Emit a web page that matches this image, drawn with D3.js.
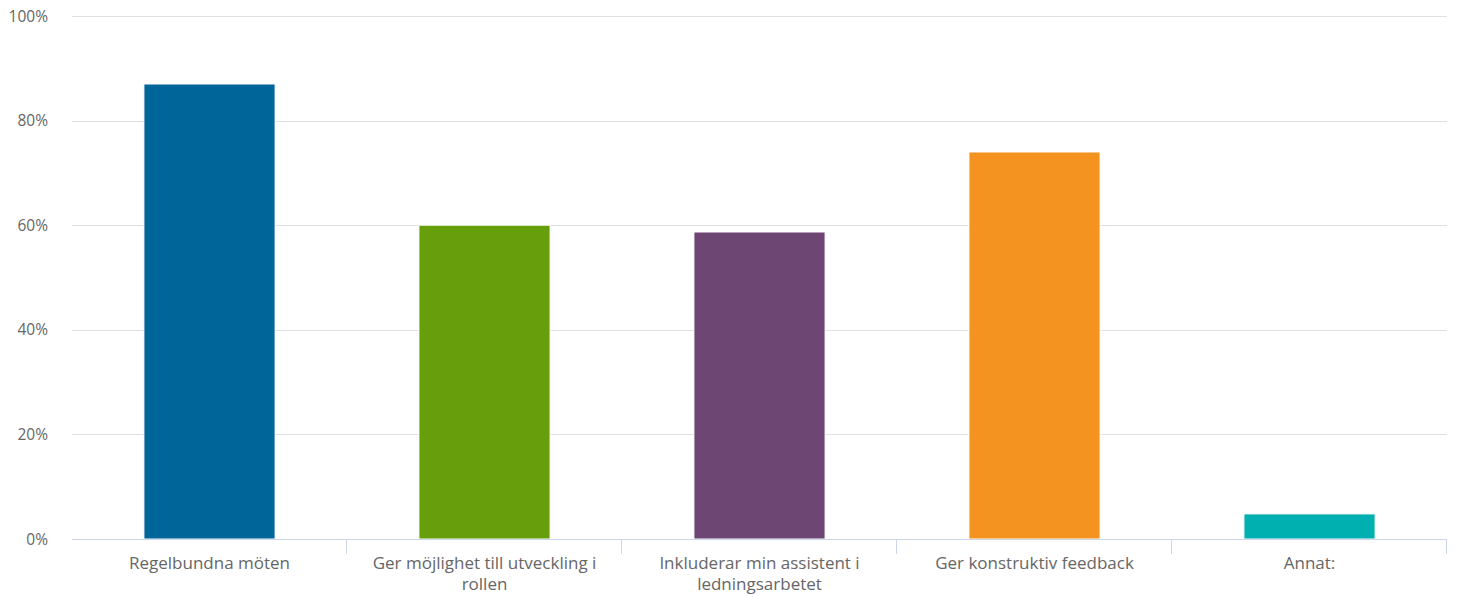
<!DOCTYPE html>
<html>
<head>
<meta charset="utf-8">
<script src="https://cdn.jsdelivr.net/npm/d3@7"></script>
<style>
  html, body { margin: 0; padding: 0; background: #fff; }
  svg { display: block; font-family: "Open Sans", sans-serif; }
</style>
</head>
<body>
<svg id="chart" width="1459" height="597"></svg>
<script>
// Survey answers (share of respondents)
const categories = [
  "Regelbundna möten",
  "Ger möjlighet till utveckling i rollen",
  "Inkluderar min assistent i ledningsarbetet",
  "Ger konstruktiv feedback",
  "Annat:"
];
const values = [0.87, 0.60, 0.587, 0.74, 0.048];
const colors = ["#006699", "#669f0b", "#6d4674", "#f59320", "#00b0b0"];
const yTicks = [0, 0.2, 0.4, 0.6, 0.8, 1.0];

const svg = d3.select("#chart");
const margin = { left: 72, right: 12, top: 16, bottom: 58 };
const W = 1459, H = 597;
const x0 = margin.left, x1 = W - margin.right;
const yBottom = H - margin.bottom, yTop = margin.top;

const x = d3.scaleBand().domain(categories).range([x0, x1]).paddingInner(0.523).paddingOuter(0.2615);
const xOuter = d3.scaleBand().domain(categories).range([x0, x1]);
const y = d3.scaleLinear().domain([0, 1]).range([yBottom, yTop]);

// Horizontal grid
svg.append("g")
  .selectAll("line")
  .data(yTicks.filter(d => d > 0))
  .join("line")
  .attr("x1", x0).attr("x2", x1)
  .attr("y1", d => Math.round(y(d)) + 0.5).attr("y2", d => Math.round(y(d)) + 0.5)
  .attr("stroke", "#e0e0e0").attr("stroke-width", 1);

// Y axis labels
svg.append("g")
  .selectAll("text")
  .data(yTicks)
  .join("text")
  .attr("x", 48)
  .attr("y", d => y(d) + 5.5)
  .attr("text-anchor", "end")
  .attr("font-size", 15.5)
  .attr("fill", "#666666")
  .text(d => d3.format(".0%")(d));

// Bars
svg.append("g")
  .selectAll("rect")
  .data(categories)
  .join("rect")
  .attr("x", d => x(d))
  .attr("width", x.bandwidth())
  .attr("y", (d, i) => y(values[i]))
  .attr("height", (d, i) => yBottom - y(values[i]))
  .attr("fill", (d, i) => colors[i])
  .attr("stroke", "#ffffff").attr("stroke-width", 1);

// X axis line and tick marks at inner/right category boundaries
const axis = svg.append("g");
axis.append("line")
  .attr("x1", x0).attr("x2", x1)
  .attr("y1", yBottom + 0.5).attr("y2", yBottom + 0.5)
  .attr("stroke", "#ccd6eb").attr("stroke-width", 1);
const boundaries = categories.slice(1).map(c => xOuter(c)).concat([x1]);
axis.selectAll("line.tick")
  .data(boundaries)
  .join("line")
  .attr("class", "tick")
  .attr("x1", d => Math.round(d) - 0.5).attr("x2", d => Math.round(d) - 0.5)
  .attr("y1", yBottom).attr("y2", yBottom + 15)
  .attr("stroke", "#ccd6eb").attr("stroke-width", 1);

// Category labels, wrapped to the band width
const maxW = 245;
categories.forEach(c => {
  const t = axis.append("text")
    .attr("text-anchor", "middle")
    .attr("font-size", 17)
    .attr("fill", "#666666");
  const cx = xOuter(c) + xOuter.bandwidth() / 2;
  const words = c.split(" ");
  let line = [], lineNo = 0;
  let tspan = t.append("tspan").attr("x", cx).attr("y", yBottom + 30);
  words.forEach(w => {
    line.push(w);
    tspan.text(line.join(" "));
    if (tspan.node().getComputedTextLength() > maxW && line.length > 1) {
      line.pop();
      tspan.text(line.join(" "));
      line = [w];
      lineNo++;
      tspan = t.append("tspan").attr("x", cx).attr("y", yBottom + 30 + lineNo * 21).text(w);
    }
  });
});
</script>
</body>
</html>
